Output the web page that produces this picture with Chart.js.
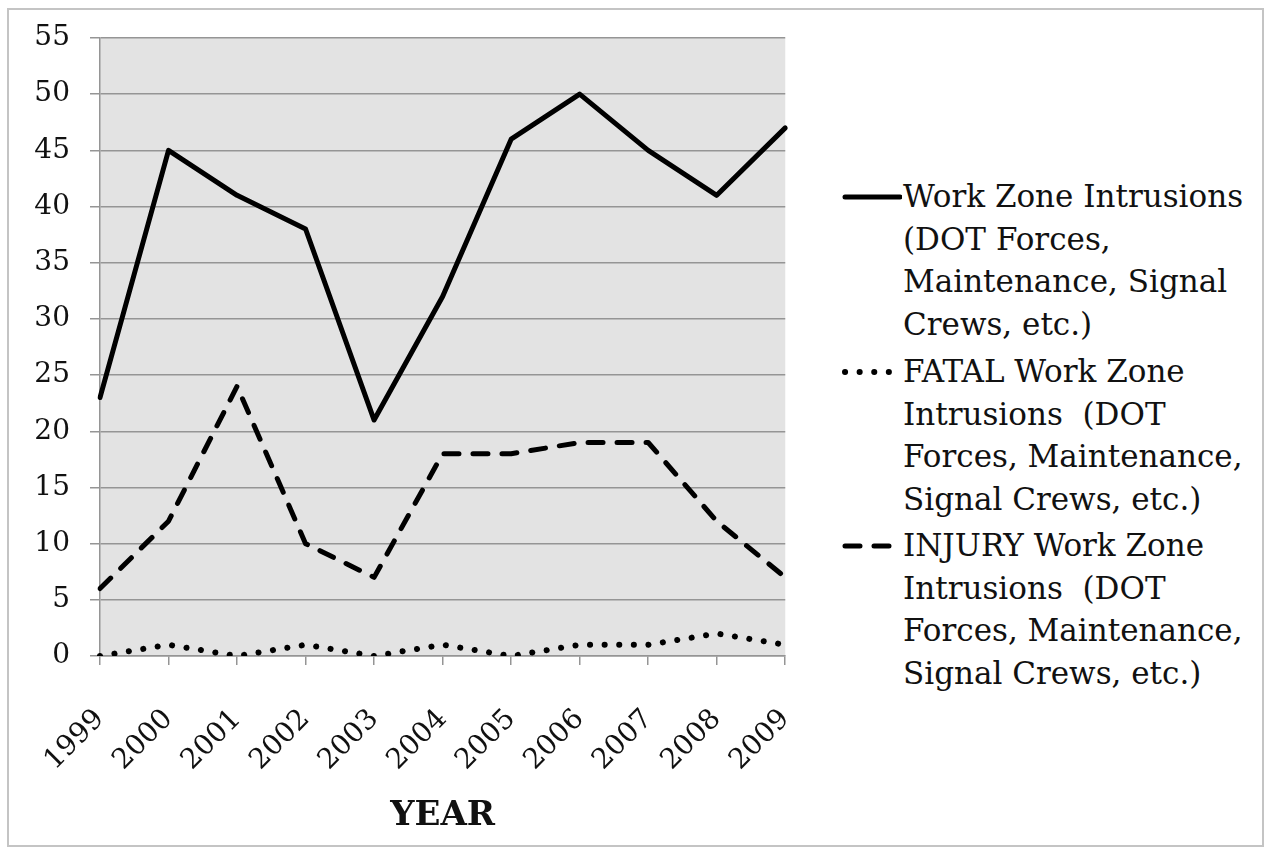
<!DOCTYPE html>
<html>
<head>
<meta charset="utf-8">
<script src="https://cdn.jsdelivr.net/npm/chart.js@4.4.1/dist/chart.umd.min.js"></script>
<style>
  body { margin: 0; background: #fff; }
  #frame { position: absolute; left: 7px; top: 8px; width: 1253px; height: 835px; border: 2px solid #c4c4c4; }
  #wrap { position: absolute; left: 0; top: 0; width: 847px; height: 849px; }
  #legend { position: absolute; left: 840px; top: 0; font-family: "DejaVu Serif", serif; font-size: 31px; color: #111; }
  .item { position: absolute; left: 0; white-space: pre; }
  .item svg { position: absolute; left: 0; top: 0; }
  .item .txt { position: absolute; left: 63px; top: -22px; line-height: 42.5px; }
</style>
</head>
<body>
<div id="frame"></div>
<div id="wrap"><canvas id="chart" width="847" height="849"></canvas></div>
<div id="legend"></div>
<script>
'use strict';
const years = ['1999','2000','2001','2002','2003','2004','2005','2006','2007','2008','2009'];
const intrusions = [23, 45, 41, 38, 21, 32, 46, 50, 45, 41, 47];
const fatal = [0, 1, 0, 1, 0, 1, 0, 1, 1, 2, 1];
const injury = [6, 12, 24, 10, 7, 18, 18, 19, 19, 12, 7];
const yTicks = [0, 5, 10, 15, 20, 25, 30, 35, 40, 45, 50, 55];
const seriesNames = [
	['Work Zone Intrusions', '(DOT Forces,', 'Maintenance, Signal', 'Crews, etc.)'],
	['FATAL Work Zone', 'Intrusions  (DOT', 'Forces, Maintenance,', 'Signal Crews, etc.)'],
	['INJURY Work Zone', 'Intrusions  (DOT', 'Forces, Maintenance,', 'Signal Crews, etc.)']
];
const dashes = [[], [0.1, 14.5], [15, 14]];
const widths = [5, 6, 5];
const legendY = [197, 372, 546];

const font = "'DejaVu Serif', serif";
const gridColor = '#959595';

const plotBg = {
	id: 'plotBg',
	beforeDraw: (chart) => {
		const a = chart.chartArea, ctx = chart.ctx;
		ctx.save();
		ctx.fillStyle = '#e3e3e3';
		ctx.fillRect(a.left, a.top, a.right - a.left, a.bottom - a.top);
		ctx.restore();
	}
};

const mkSet = (i, data) => ({
	label: seriesNames[i].join(' '),
	data: data,
	borderColor: '#000',
	backgroundColor: '#000',
	borderWidth: widths[i],
	borderDash: dashes[i],
	borderCapStyle: 'round',
	borderJoinStyle: 'round',
	pointRadius: 0,
	tension: 0
});

new Chart(document.getElementById('chart').getContext('2d'), {
	type: 'line',
	data: {
		labels: years,
		datasets: [mkSet(0, intrusions), mkSet(1, fatal), mkSet(2, injury)]
	},
	options: {
		responsive: false,
		animation: false,
		layout: { padding: { left: 0, right: 55, top: 38, bottom: 8 } },
		plugins: { legend: { display: false }, tooltip: { enabled: false } },
		scales: {
			x: {
				offset: false,
				afterFit: (s) => { s.height = 185; },
				grid: { display: true, drawOnChartArea: false, color: gridColor, lineWidth: 1.5, tickLength: 9 },
				border: { color: gridColor, width: 1.5 },
				ticks: { color: '#111', font: { family: font, size: 28 }, minRotation: 45, maxRotation: 45, padding: 38 },
				title: { display: true, text: 'YEAR', color: '#111', font: { family: font, size: 34, weight: 'bold' }, padding: { top: 2 } }
			},
			y: {
				min: 0, max: 55,
				afterFit: (s) => { s.width = 100; },
				afterBuildTicks: (s) => { s.ticks = yTicks.map(v => ({ value: v })); },
				grid: { color: gridColor, lineWidth: 1.5, tickLength: 10 },
				border: { color: gridColor, width: 1.5 },
				ticks: { color: '#111', font: { family: font, size: 28 }, padding: 20 }
			}
		}
	},
	plugins: [plotBg]
});

// legend
const leg = document.getElementById('legend');
seriesNames.forEach((lines, i) => {
	const d = document.createElement('div');
	d.className = 'item';
	d.style.top = legendY[i] + 'px';
	const dash = dashes[i].length ? 'stroke-dasharray="' + dashes[i].join(' ') + '"' : '';
	d.innerHTML = '<svg width="62" height="10" style="top:-5px" viewBox="0 0 62 10"><line x1="5" y1="5" x2="60" y2="5" stroke="#000" stroke-width="' + widths[i] + '" stroke-linecap="round" ' + dash + '/></svg>' +
		'<div class="txt">' + lines.join('<br>') + '</div>';
	leg.appendChild(d);
});
</script>
</body>
</html>
